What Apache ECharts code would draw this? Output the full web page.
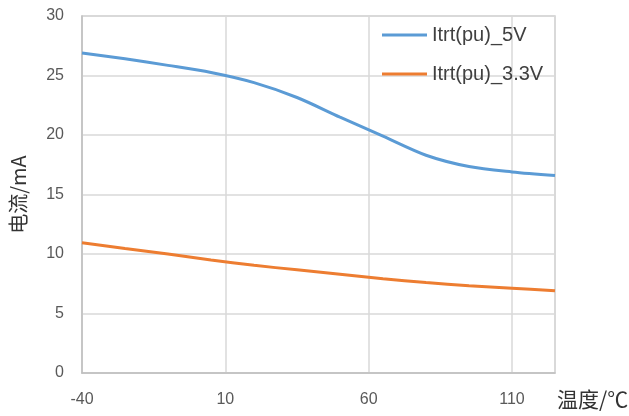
<!DOCTYPE html>
<html>
<head>
<meta charset="utf-8">
<script src="https://cdn.jsdelivr.net/npm/echarts@6/dist/echarts.min.js"></script>
<style>
	html, body { margin: 0; padding: 0; background: #fff; }
	#chart { width: 629px; height: 416px; }
</style>
</head>
<body>
<div id="chart"></div>
<script>
// 温度 (℃)
const temps = [-40, -25, -10, 5, 20, 35, 50, 65, 80, 95, 110, 125];
// 电流 (mA)
const itrt5V = [26.9, 26.4, 25.85, 25.25, 24.4, 23.15, 21.5, 19.9, 18.3, 17.35, 16.9, 16.6];
const itrt33V = [10.95, 10.46, 10.0, 9.5, 9.05, 8.67, 8.3, 7.93, 7.6, 7.34, 7.12, 6.91];
const seriesNames = ['Itrt(pu)_5V', 'Itrt(pu)_3.3V'];
const seriesColors = ['#5B9BD5', '#ED7D31'];

const labelFont = 'Liberation Sans, Arial, sans-serif';
const cjkFont = '"Noto Sans CJK SC", sans-serif';

// 通用坐标轴样式
const axisCommon = {
	axisTick: { show: false },
	axisLabel: {
		color: '#595959',
		fontSize: 16,
		fontFamily: labelFont
	},
	splitLine: {
		lineStyle: { color: '#d9d9d9', width: 1.5 }
	}
};

const toPairs = (xs, ys) => xs.map((x, i) => [x, ys[i]]);

const chart = echarts.init(document.getElementById('chart'));
chart.setOption({
	animation: false,
	backgroundColor: '#fff',
	grid: {
		left: 82,
		right: 74,
		top: 16,
		bottom: 43,
		outerBoundsMode: 'none',
		containLabel: false,
		show: true,
		borderColor: '#d0d0d0',
		borderWidth: 1.5
	},
	legend: {
		orient: 'vertical',
		left: 377,
		top: 20,
		itemGap: 19,
		icon: 'rect',
		itemWidth: 45,
		itemHeight: 3,
		textStyle: {
			color: '#404040',
			fontSize: 20,
			fontFamily: labelFont
		},
		data: seriesNames
	},
	xAxis: {
		type: 'value',
		min: -40,
		max: 125,
		interval: 50,
		...axisCommon,
		axisLine: { show: true, onZero: false, lineStyle: { color: '#bfbfbf', width: 1.5 } },
		axisLabel: { ...axisCommon.axisLabel, margin: 19, showMaxLabel: false },
		name: '温度/℃',
		nameLocation: 'end',
		nameGap: 2,
		nameTextStyle: {
			color: '#333',
			fontSize: 21,
			fontFamily: cjkFont,
			verticalAlign: 'top',
			padding: [16, 0, 0, 0]
		}
	},
	yAxis: {
		type: 'value',
		min: 0,
		max: 30,
		interval: 5,
		...axisCommon,
		axisLine: { show: true, onZero: false, lineStyle: { color: '#bfbfbf', width: 1.5 } },
		axisLabel: { ...axisCommon.axisLabel, margin: 18 },
		name: '电流/mA',
		nameLocation: 'middle',
		nameRotate: 90,
		nameGap: 54,
		nameTextStyle: {
			color: '#333',
			fontSize: 20,
			fontFamily: cjkFont
		}
	},
	series: [
		{
			name: seriesNames[0],
			type: 'line',
			smooth: 0.3,
			showSymbol: false,
			color: seriesColors[0],
			lineStyle: { width: 3, color: seriesColors[0] },
			data: toPairs(temps, itrt5V)
		},
		{
			name: seriesNames[1],
			type: 'line',
			smooth: 0.3,
			showSymbol: false,
			color: seriesColors[1],
			lineStyle: { width: 3, color: seriesColors[1] },
			data: toPairs(temps, itrt33V)
		}
	]
});
</script>
</body>
</html>
